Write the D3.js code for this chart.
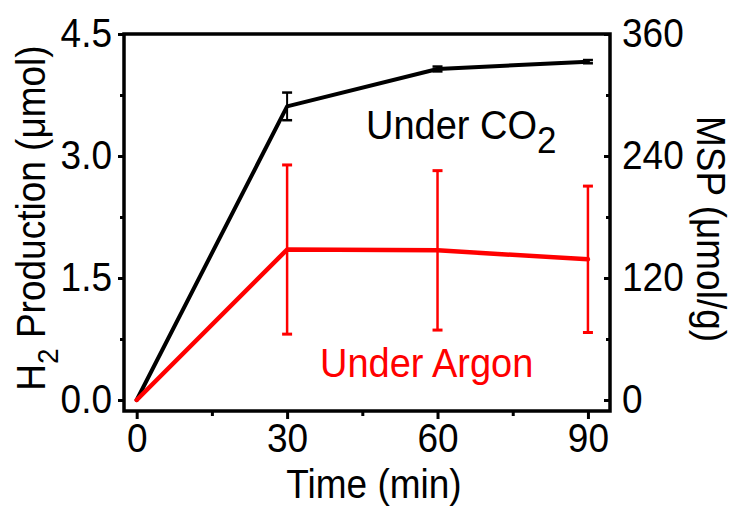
<!DOCTYPE html>
<html>
<head>
<meta charset="utf-8">
<script src="https://cdn.jsdelivr.net/npm/d3@7"></script>
<style>
  html, body { margin: 0; padding: 0; background: #fff; }
  svg text { font-family: "Liberation Sans", Arial, Helvetica, sans-serif; }
</style>
</head>
<body>
<svg id="chart" width="734" height="507"></svg>
<script>
// Reaction time (min)
const times = [0, 30, 60, 90];
// H2 production under CO2 (µmol) and its error
const co2Values = [0, 3.61, 4.07, 4.16];
const co2Errors = [0, 0.17, 0.03, 0.02];
// H2 production under argon (µmol) and its error
const argonValues = [0, 1.85, 1.84, 1.73];
const argonErrors = [0, 1.04, 0.98, 0.90];
// Axis ticks
const xMajorTicks = [0, 30, 60, 90];
const xMinorTicks = [15, 45, 75];
const yLeftMajor = [0, 1.5, 3.0, 4.5];
const yLeftMinor = [0.75, 2.25, 3.75];
const yRightMajor = [0, 120, 240, 360];
const yRightMinor = [60, 180, 300];

const svg = d3.select("#chart");
const frame = { left: 124, right: 610, top: 34, bottom: 411 };
const FONT = 37;
const STRETCH = 1.08; // slightly tall lettering

const x = d3.scaleLinear().domain([-2.53, 94.4]).range([frame.left, frame.right]);
const y = d3.scaleLinear().domain([-0.135, 4.5]).range([frame.bottom, frame.top]);
const yR = d3.scaleLinear().domain([-0.135 * 80, 360]).range([frame.bottom, frame.top]);

function styleAxis(g) {
  g.select(".domain").remove();
  g.selectAll(".tick line").attr("stroke", "#000").attr("stroke-width", 3);
  g.selectAll(".tick text").attr("fill", "#000").style("font-size", FONT + "px")
    .style("font-family", "'Liberation Sans', Arial, sans-serif")
    .attr("transform", `scale(1,${STRETCH})`);
}

// Bottom axis
svg.append("g").attr("transform", `translate(0,${frame.bottom})`)
  .call(d3.axisBottom(x).tickValues(xMajorTicks).tickSize(8).tickPadding(3.5).tickFormat(d3.format("d")))
  .call(styleAxis);
svg.append("g").attr("transform", `translate(0,${frame.bottom})`)
  .call(d3.axisBottom(x).tickValues(xMinorTicks).tickSize(5).tickFormat(""))
  .call(styleAxis);

// Left axis
svg.append("g").attr("transform", `translate(${frame.left},0)`)
  .call(d3.axisLeft(y).tickValues(yLeftMajor).tickSize(6).tickPadding(6).tickFormat(d3.format(".1f")))
  .call(styleAxis);
svg.append("g").attr("transform", `translate(${frame.left},0)`)
  .call(d3.axisLeft(y).tickValues(yLeftMinor).tickSize(4).tickFormat(""))
  .call(styleAxis);

// Right axis (ticks point inward)
svg.append("g").attr("transform", `translate(${frame.right},0)`)
  .call(d3.axisRight(yR).tickValues(yRightMajor).tickSize(-6).tickPadding(12).tickFormat(d3.format("d")))
  .call(styleAxis);
svg.append("g").attr("transform", `translate(${frame.right},0)`)
  .call(d3.axisRight(yR).tickValues(yRightMinor).tickSize(-4).tickFormat(""))
  .call(styleAxis);

// Plot frame
svg.append("rect")
  .attr("x", frame.left).attr("y", frame.top)
  .attr("width", frame.right - frame.left).attr("height", frame.bottom - frame.top)
  .attr("fill", "none").attr("stroke", "#000").attr("stroke-width", 3.5);

const line = d3.line().x(d => x(d.t)).y(d => y(d.v));

function drawSeries(values, errors, color, lineWidth, errWidth, capHalf) {
  const pts = times.map((t, i) => ({ t, v: values[i], e: errors[i] }));
  const g = svg.append("g");
  svg.append("path").datum(pts).attr("d", line)
    .attr("fill", "none").attr("stroke", color).attr("stroke-width", lineWidth)
    .attr("stroke-linejoin", "round").attr("stroke-linecap", "round");
  const eb = g.selectAll("g").data(pts.filter(d => d.e > 0)).join("g");
  eb.append("line")
    .attr("x1", d => x(d.t)).attr("x2", d => x(d.t))
    .attr("y1", d => y(d.v + d.e)).attr("y2", d => y(d.v - d.e))
    .attr("stroke", color).attr("stroke-width", errWidth);
  [1, -1].forEach(s => {
    eb.append("line")
      .attr("x1", d => x(d.t) - capHalf).attr("x2", d => x(d.t) + capHalf)
      .attr("y1", d => y(d.v + s * d.e)).attr("y2", d => y(d.v + s * d.e))
      .attr("stroke", color).attr("stroke-width", errWidth + 0.5);
  });
}

drawSeries(co2Values, co2Errors, "#000", 4, 2, 5);
drawSeries(argonValues, argonErrors, "#ff0000", 4.5, 2.5, 5);

// Text placed at (px, py) with optional rotation, drawn slightly tall
function label(px, py, rot, anchor) {
  return svg.append("text")
    .attr("transform", `translate(${px},${py}) rotate(${rot}) scale(1,${STRETCH})`)
    .attr("text-anchor", anchor).style("font-size", FONT + "px");
}

// Series annotations
const co2Label = label(366, 139, 0, "start").style("font-size", "38px").attr("fill", "#000");
co2Label.append("tspan").text("Under CO");
co2Label.append("tspan").attr("dy", 13).style("font-size", "35px").text("2");

label(320, 377, 0, "start").style("font-size", "38px").attr("fill", "#ff0000").text("Under Argon");

// Axis titles
label((frame.left + frame.right) / 2 + 7, 498, 0, "middle").text("Time (min)");

const leftTitle = label(45, 218, -90, "middle");
leftTitle.append("tspan").text("H");
leftTitle.append("tspan").attr("dy", 12).style("font-size", "28px").text("2");
leftTitle.append("tspan").attr("dy", -12).text(" Production (μmol)");

label(697, 229, 90, "middle").text("MSP (μmol/g)");
</script>
</body>
</html>
